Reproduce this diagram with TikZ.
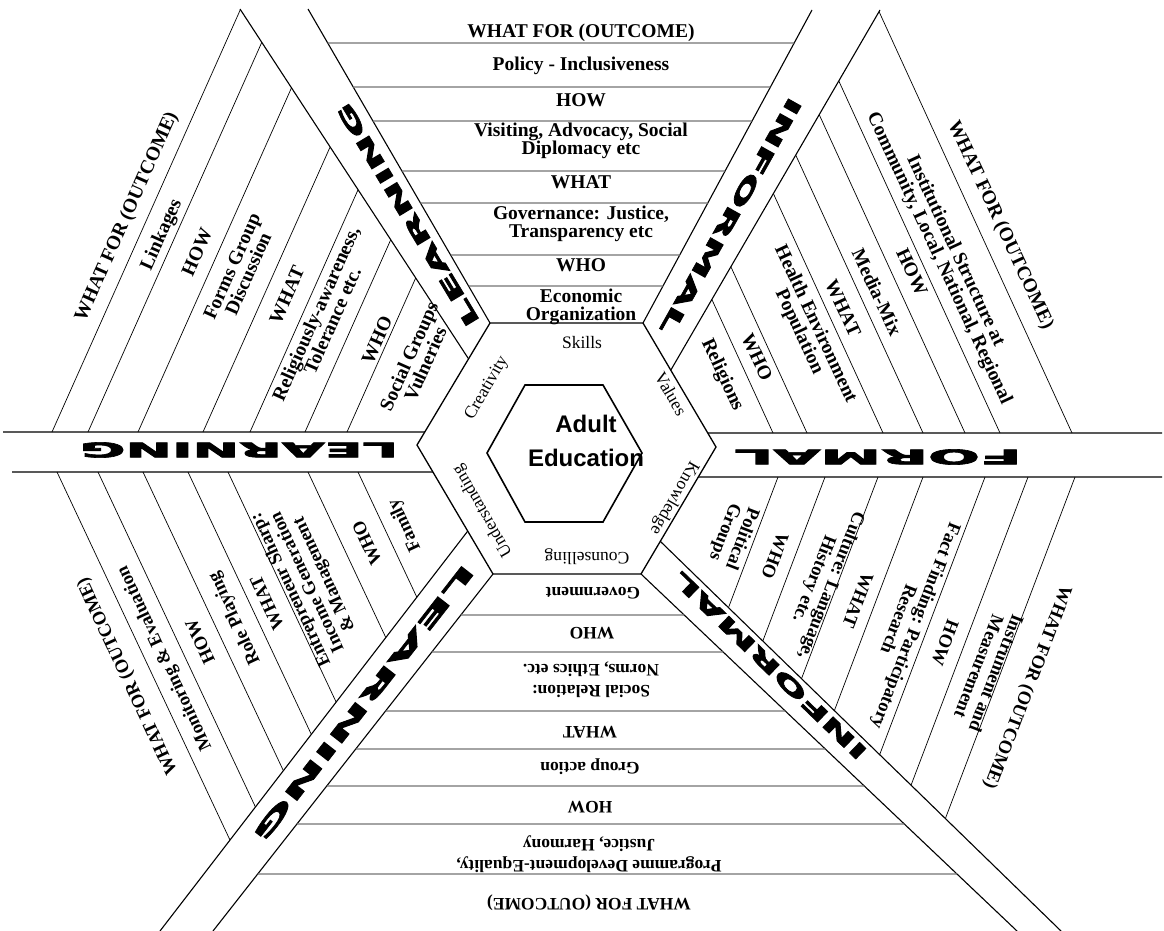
\documentclass[tikz,border=0pt]{standalone}
\usepackage{graphicx}
\usepackage{fontspec}
\setmainfont{Liberation Serif}
\newfontface\armfont[FakeBold=3]{DejaVu Sans Bold}
\newfontfamily\hubfont{Liberation Sans}

% heavy stretched label for the six arms
\newcommand{\armtext}[2]{\resizebox{#1}{15pt}{\armfont #2}}

\begin{document}
\begin{tikzpicture}[
    x=1pt, y=-1pt,
    hexline/.style={line width=1.3pt},
    armline/.style={line width=1.1pt},
    rowline/.style={line width=1.3pt, black!55},
    slant/.style={line width=0.7pt},
    cell/.style={align=center, inner sep=0pt,
        font=\bfseries\fontsize{19.5}{18}\selectfont},
    lowcell/.style={cell, font=\bfseries\fontsize{18.5}{18.5}\selectfont},
    botcell/.style={cell, font=\bfseries\fontsize{17.5}{21}\selectfont},
    ring/.style={inner sep=0pt, font=\fontsize{17.5}{19}\selectfont},
    arm/.style={inner sep=0pt},
]
\useasboundingbox (0,0) rectangle (1164,931);

% middle hexagon corners
\coordinate (m1) at (490,323);
\coordinate (m2) at (643,323);
\coordinate (m3) at (716,447);
\coordinate (m4) at (641,574);
\coordinate (m5) at (493,574);
\coordinate (m6) at (417,445);

% arm edges (outer ends)
\coordinate (la1) at (3,432);    \coordinate (la2) at (1164,432);
\coordinate (lb1) at (12,472);   \coordinate (lb2) at (1164,472);
\coordinate (ra1) at (1162,433); \coordinate (ra2) at (0,433);
\coordinate (rb1) at (1162,477); \coordinate (rb2) at (0,477);
\coordinate (tl1) at (240,9);    \coordinate (tl2) at (468,358);
\coordinate (tl3) at (308,9);
\coordinate (tr1) at (812,10);
\coordinate (tr2) at (880,10);   \coordinate (tr3) at (672,368);
\coordinate (br1) at (662,543);  \coordinate (br2) at (1061,931);
\coordinate (br4) at (1017,931);
\coordinate (bl1) at (417,597);  \coordinate (bl2) at (160,931);
\coordinate (bl4) at (213,931);

% the six arms
\draw[armline] (la1) -- (intersection of la1--la2 and m6--m1);
\draw[armline] (lb1) -- (intersection of lb1--lb2 and m6--m5);
\draw[armline] (ra1) -- (intersection of ra1--ra2 and m2--m3);
\draw[armline] (rb1) -- (intersection of rb1--rb2 and m3--m4);
\draw[armline] (tl1) -- (intersection of tl1--tl2 and m6--m1);
\draw[armline] (tl3) -- (m1);
\draw[armline] (tr1) -- (m2);
\draw[armline] (tr2) -- (intersection of tr2--tr3 and m2--m3);
\draw[armline] (intersection of br1--br2 and m3--m4) -- (br2);
\draw[armline] (m4) -- (br4);
\draw[armline] (intersection of bl1--bl2 and m5--m6) -- (bl2);
\draw[armline] (m5) -- (bl4);

% rows of the top and bottom sectors
\foreach \y in {43,87,121,171,203,255,286}{
    \coordinate (p) at (0,\y); \coordinate (q) at (1164,\y);
    \draw[rowline] (intersection of p--q and tl3--m1)
        -- (intersection of p--q and tr1--m2);
}
\foreach \y in {615,652,711,749,786,824,874}{
    \coordinate (p) at (0,\y); \coordinate (q) at (1164,\y);
    \draw[rowline] (intersection of p--q and m5--bl4)
        -- (intersection of p--q and m4--br4);
}

% slanted rows of the four side sectors
\foreach \x in {52,88,138,203,250,305,347}{
    \coordinate (p) at (\x,432); \coordinate (q) at ({\x+0.446*432},0);
    \draw[slant] (p) -- (intersection of p--q and tl1--tl2);
}
\foreach \x in {773,807,883,923,965,1000,1072}{
    \coordinate (p) at (\x,433); \coordinate (q) at ({\x-0.458*433},0);
    \draw[slant] (p) -- (intersection of p--q and tr2--tr3);
}
\foreach \x in {778,825,878,923,985,1028,1075}{
    \coordinate (p) at (\x,477); \coordinate (q) at ({\x-0.38*400},877);
    \draw[slant] (p) -- (intersection of p--q and br1--br2);
}
\foreach \x in {57,98,143,188,228,308,358}{
    \coordinate (p) at (\x,472); \coordinate (q) at ({\x+0.47*400},872);
    \draw[slant] (p) -- (intersection of p--q and bl1--bl2);
}

% hexagons
\draw[hexline] (m1) -- (m2) -- (m3) -- (m4) -- (m5) -- (m6) -- cycle;
\draw[line width=1.6pt] (525,385) -- (603,385) -- (642,453) -- (603,522)
    -- (525,522) -- (487,453) -- cycle;

% centre
\node[align=center, inner sep=0pt, font=\hubfont\bfseries\fontsize{24}{34}\selectfont]
    (hub) at (586,441) {Adult\\Education};

% inner ring
\node[ring] (skills) at (582,343) {Skills};
\node[ring, rotate=-60] (values) at (671,394) {Values};
\node[ring, rotate=-120] (knowledge) at (674,498) {Knowledge};
\node[ring, rotate=180] (counsel) at (587,557) {Counselling};
\node[ring, rotate=120] (underst) at (483,511) {Understanding};
\node[ring, rotate=60] (creat) at (487,388) {Creativity};

% arm labels
\node[arm, rotate=180] (armW) at (239,450) {\armtext{318pt}{LEARNING}};
\node[arm, rotate=180] (armE) at (878,457) {\armtext{287pt}{FORMAL}};
\node[arm, rotate=121] (armNW) at (408,215) {\armtext{257pt}{LEARNING}};
\node[arm, rotate=240.7] (armNE) at (731,216) {\armtext{268pt}{INFORMAL}};
\node[arm, rotate=136] (armSE) at (770,666) {\armtext{260pt}{INFORMAL}};
\node[arm, rotate=232] (armSW) at (364,703) {\armtext{345pt}{LEARNING}};

% top sector
\node[cell] (t0) at (581,33) {WHAT FOR (OUTCOME)};
\node[cell] (t1) at (581,66) {Policy - Inclusiveness};
\node[cell] (t2) at (581,100) {HOW};
\node[cell] (t3) at (581,141) {Visiting, Advocacy, Social\\Diplomacy etc};
\node[cell] (t4) at (581,182) {WHAT};
\node[cell] (t5) at (581,224) {Governance: Justice,\\Transparency etc};
\node[cell] (t6) at (581,265) {WHO};
\node[cell] (t7) at (581,307) {Economic\\Organization};

% bottom sector
\node[botcell, rotate=180] (b0) at (589,903) {WHAT FOR (OUTCOME)};
\node[botcell, rotate=180] (b1) at (589,854) {Programme Development-Equality,\\Justice, Harmony};
\node[botcell, rotate=180] (b2) at (590,807) {HOW};
\node[botcell, rotate=180] (b3) at (590,767) {Group action};
\node[botcell, rotate=180] (b4) at (590,732) {WHAT};
\node[botcell, rotate=180] (b5) at (591,680) {Social Relation:\\Norms, Ethics etc.};
\node[botcell, rotate=180] (b6) at (592,633) {WHO};
\node[botcell, rotate=180] (b7) at (593,593) {Government};

% upper-left sector
\node[cell, rotate=66] (ul0) at (127,217) {WHAT FOR (OUTCOME)};
\node[cell, rotate=66] (ul1) at (162,235) {Linkages};
\node[cell, rotate=66] (ul2) at (197,252) {HOW};
\node[cell, rotate=66] (ul3) at (240,270) {Forms Group\\Discussion};
\node[cell, rotate=66] (ul4) at (287,295) {WHAT};
\node[cell, rotate=66] (ul5) at (324,317) {Religiously-awareness,\\Tolerance etc.};
\node[cell, rotate=66] (ul6) at (377,340) {WHO};
\node[cell, rotate=66] (ul7) at (417,360) {Social Groups\\Vulneries};

% upper-right sector
\node[cell, rotate=-65] (ur0) at (1000,225) {WHAT FOR (OUTCOME)};
\node[cell, rotate=-65] (ur1) at (947,255) {Institutional Structure at\\Community, Local, National, Regional};
\node[cell, rotate=-65] (ur2) at (912,272) {HOW};
\node[cell, rotate=-65] (ur3) at (877,292) {Media-Mix};
\node[cell, rotate=-65] (ur4) at (843,308) {WHAT};
\node[cell, rotate=-65] (ur5) at (807,328) {Health Environment\\Population};
\node[cell, rotate=-65] (ur6) at (757,357) {WHO};
\node[cell, rotate=-65] (ur7) at (722,375) {Religions};

% lower-right sector
\node[lowcell, rotate=-111] (lr0) at (1027,687) {WHAT FOR (OUTCOME)};
\node[lowcell, rotate=-111] (lr1) at (988,670) {Instrument and\\Measurement};
\node[lowcell, rotate=-111] (lr2) at (945,643) {HOW};
\node[lowcell, rotate=-111] (lr3) at (908,623) {Fact Finding: Participatory\\Research};
\node[lowcell, rotate=-111] (lr4) at (858,600) {WHAT};
\node[lowcell, rotate=-111] (lr5) at (822,582) {Culture: Language,\\History etc.};
\node[lowcell, rotate=-111] (lr6) at (775,556) {WHO};
\node[lowcell, rotate=-111] (lr7) at (733,535) {Political\\Groups};

% lower-left sector
\node[lowcell, rotate=115] (ll0) at (128,676) {WHAT FOR (OUTCOME)};
\node[lowcell, rotate=115] (ll1) at (165,658) {Monitoring \& Evaluation};
\node[lowcell, rotate=115] (ll2) at (200,642) {HOW};
\node[lowcell, rotate=115] (ll3) at (235,618) {Role Playing};
\node[lowcell, rotate=115] (ll4) at (267,603) {WHAT};
\node[lowcell, rotate=115] (ll5) at (308,582) {Entrepreneur Sharp:\\Income Generation\\\& Management};
\node[lowcell, rotate=115] (ll6) at (367,543) {WHO};
\node[lowcell, rotate=115] (ll7) at (405,525) {Family};

\end{tikzpicture}
\end{document}
